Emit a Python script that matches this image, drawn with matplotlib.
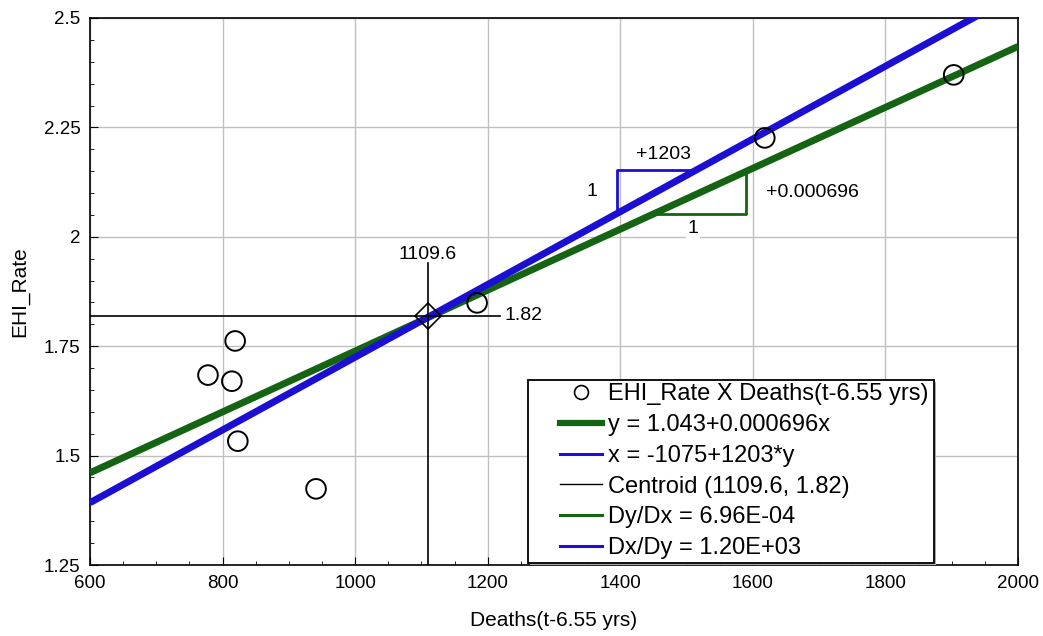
import matplotlib.pyplot as plt
from matplotlib.patches import Rectangle
from matplotlib.ticker import MultipleLocator

plt.rcParams["font.family"] = ["Liberation Sans", "DejaVu Sans"]

deaths = [778, 814, 819, 823, 941, 1184, 1618, 1903]
ehi_rate = [1.684, 1.670, 1.762, 1.533, 1.424, 1.849, 2.226, 2.370]

# fits
a_yx, b_yx = 1.043, 0.000696      # y = a + b*x
a_xy, b_xy = -1075, 1203          # x = a + b*y
cx, cy = 1109.6, 1.82
x_range = [600, 2000]

# slope triangles
blue_tri_x0, blue_tri_y0, blue_dy = 1395, 2.053, 0.1
green_tri_x0, green_dx = 1450, 140

GREEN = "#146414"
BLUE = "#1a0fd2"


def main():
    fig = plt.figure(figsize=(10.43, 6.36), dpi=100)
    ax = fig.add_axes([90 / 1043, 1 - 565 / 636, 928 / 1043, 547 / 636])

    # regression lines
    ys_green = [a_yx + b_yx * x for x in x_range]
    ax.plot(x_range, ys_green, color=GREEN, lw=5, solid_capstyle="butt", zorder=3)
    ys_blue = [(x - a_xy) / b_xy for x in x_range]
    ax.plot(x_range, ys_blue, color=BLUE, lw=5, solid_capstyle="butt", zorder=4)

    # blue slope triangle: vertical dy, horizontal dx = b_xy*dy
    bx1 = blue_tri_x0 + b_xy * blue_dy
    ax.plot([blue_tri_x0, blue_tri_x0, bx1], [blue_tri_y0, blue_tri_y0 + blue_dy, blue_tri_y0 + blue_dy],
            color=BLUE, lw=2, zorder=2)
    ax.text(blue_tri_x0 - 30, blue_tri_y0 + blue_dy / 2, "1", fontsize=14, ha="right", va="center")
    ax.text(blue_tri_x0 + b_xy * blue_dy / 2 + 10, blue_tri_y0 + blue_dy + 0.034, "+%d" % b_xy,
            fontsize=14, ha="center", va="center")

    # green slope triangle: horizontal dx, vertical dy = b_yx*dx
    gy0 = a_yx + b_yx * green_tri_x0
    gx1 = green_tri_x0 + green_dx
    ax.plot([green_tri_x0, gx1, gx1], [gy0, gy0, gy0 + b_yx * green_dx], color=GREEN, lw=2, zorder=2)
    ax.text(green_tri_x0 + green_dx / 2 - 10, gy0 - 0.034, "1", fontsize=14, ha="center", va="center",
            bbox=dict(facecolor="white", edgecolor="none", pad=1))
    ax.text(gx1 + 30, 2.102, "+%.6f" % b_yx, fontsize=14, ha="left", va="center")

    # centroid cross
    ax.plot([cx, cx], [1.25, 1.94], color="black", lw=1.2, zorder=5)
    ax.plot([600, 1218], [cy, cy], color="black", lw=1.2, zorder=5)
    ax.plot([cx], [cy], marker="D", ms=13, mfc="none", mec="black", mew=1.2, zorder=6)
    ax.text(cx, 1.96, "%.1f" % cx, fontsize=14, ha="center", va="center")
    ax.text(1225, cy, "%.2f" % cy, fontsize=14, ha="left", va="center")

    # points
    ax.scatter(deaths, ehi_rate, s=200, facecolors="none", edgecolors="black", linewidths=1.4, zorder=7)

    # legend box (drawn by hand so the padding matches)
    lx0, ly0, lw_, lh = (528 - 90) / 928, (565 - 563) / 547, (934 - 528) / 928, (563 - 380) / 547
    ax.add_patch(Rectangle((lx0 + 0.002, ly0 - 0.003), lw_, lh, transform=ax.transAxes,
                           facecolor="#aaaaaa", edgecolor="none", zorder=8, clip_on=False))
    ax.add_patch(Rectangle((lx0, ly0), lw_, lh, transform=ax.transAxes,
                           facecolor="white", edgecolor="black", lw=1.3, zorder=9, clip_on=False))

    h_pts, = ax.plot([], [], ls="none", marker="o", ms=10, mfc="none", mec="black", mew=1.2)
    h_g, = ax.plot([], [], color=GREEN, lw=4.5)
    h_b, = ax.plot([], [], color=BLUE, lw=2.2)
    h_c, = ax.plot([], [], color="black", lw=1)
    h_dg, = ax.plot([], [], color=GREEN, lw=2.2)
    h_db, = ax.plot([], [], color=BLUE, lw=2.2)
    labels = ["EHI_Rate X Deaths(t-6.55 yrs)",
              "y = %.3f+%.6fx" % (a_yx, b_yx),
              "x = %d+%d*y" % (a_xy, b_xy),
              "Centroid (%.1f, %.2f)" % (cx, cy),
              "Dy/Dx = %.2E" % b_yx,
              "Dx/Dy = %.2E" % b_xy]
    leg = ax.legend([h_pts, h_g, h_b, h_c, h_dg, h_db], labels, loc="upper left",
                    bbox_to_anchor=(lx0 + 30 / 928, ly0 + lh - 1 / 547), fontsize=17, frameon=False,
                    handlelength=1.75, handletextpad=0.25, labelspacing=0.37, borderpad=0.1,
                    borderaxespad=0)
    leg.set_zorder(10)

    ax.set_xlim(600, 2000)
    ax.set_ylim(1.25, 2.5)
    ax.xaxis.set_major_locator(MultipleLocator(200))
    ax.xaxis.set_minor_locator(MultipleLocator(50))
    ax.yaxis.set_minor_locator(MultipleLocator(0.05))
    ax.set_yticks([1.25, 1.5, 1.75, 2, 2.25, 2.5])
    ax.set_yticklabels(["1.25", "1.5", "1.75", "2", "2.25", "2.5"])
    ax.tick_params(which="both", direction="in", labelsize=13.5)
    ax.tick_params(axis="x", which="major", pad=7)
    ax.tick_params(axis="y", which="major", pad=7)
    ax.tick_params(which="major", length=6)
    ax.tick_params(which="minor", length=3)
    ax.grid(True, which="major", color="#c0c0c0", lw=1)
    ax.set_axisbelow(True)
    for s in ax.spines.values():
        s.set_linewidth(1.2)

    ax.set_xlabel("Deaths(t-6.55 yrs)", fontsize=15, labelpad=14)
    ax.set_ylabel("EHI_Rate", fontsize=15, labelpad=10)

    fig.savefig("out.png", dpi=100)
    plt.close(fig)


if __name__ == "__main__":
    main()
